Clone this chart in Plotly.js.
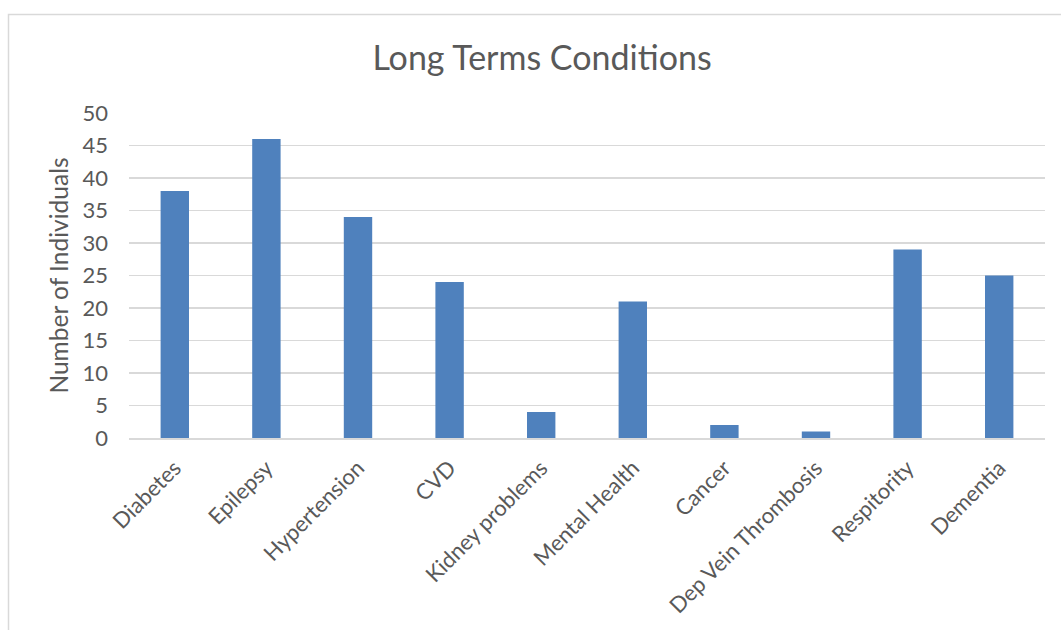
<!DOCTYPE html>
<html>
<head>
<meta charset="utf-8">
<script src="https://cdn.plot.ly/plotly-3.0.1.min.js"></script>
<style>
  html, body { margin: 0; padding: 0; background: #ffffff; }
  #chart { width: 1061px; height: 630px; }
</style>
</head>
<body>
<div id="chart"></div>
<script>
// Long-term conditions recorded, number of individuals per condition
const conditions = [
  "Diabetes", "Epilepsy", "Hypertension", "CVD", "Kidney problems",
  "Mental Health", "Cancer", "Dep Vein Thrombosis", "Respitority", "Dementia"
];
const individuals = [38, 46, 34, 24, 4, 21, 2, 1, 29, 25];
const yTicks = [0, 5, 10, 15, 20, 25, 30, 35, 40, 45, 50];

const textColor = "#595959";
const gridColor = "#d9d9d9";
const fontFamily = "Lato, 'Open Sans', sans-serif";

const W = 1061, H = 630;
const M = { l: 129, r: 16, t: 113, b: 192 };
const plotW = W - M.l - M.r, plotH = H - M.t - M.b;

// outer chart frame, expressed in paper units relative to the plot area
const frame = {
  x0: (8.5 - M.l) / plotW,
  x1: (W + 20 - M.l) / plotW,
  y0: (M.b - H - 20) / plotH,
  y1: (H - M.b - 14.5) / plotH
};

const trace = {
  type: "bar",
  x: conditions,
  y: individuals,
  marker: { color: "#4f81bd", line: { width: 0 } },
  hoverinfo: "x+y"
};

const layout = {
  width: W,
  height: H,
  margin: M,
  paper_bgcolor: "#ffffff",
  plot_bgcolor: "#ffffff",
  bargap: 0.69,
  showlegend: false,
  font: { family: fontFamily, color: textColor, size: 22 },
  title: {
    text: "Long Terms Conditions",
    font: { family: fontFamily, size: 34, color: textColor },
    xref: "container",
    x: 542 / W,
    xanchor: "center",
    yref: "container",
    y: 1 - 58 / H,
    yanchor: "middle"
  },
  xaxis: {
    type: "category",
    tickangle: -45,
    showgrid: false,
    showline: true,
    linecolor: gridColor,
    linewidth: 1.5,
    ticks: "",
    ticklabelstandoff: 7,
    tickfont: { family: fontFamily, size: 22, color: textColor },
    fixedrange: true
  },
  yaxis: {
    range: [0, 50],
    tickvals: yTicks,
    showgrid: true,
    gridcolor: gridColor,
    gridwidth: 1.5,
    zeroline: false,
    showline: false,
    ticks: "",
    ticklabelstandoff: 20,
    tickfont: { family: fontFamily, size: 22, color: textColor },
    title: {
      text: "Number of Individuals",
      font: { family: fontFamily, size: 24.5, color: textColor },
      standoff: 6
    },
    fixedrange: true
  },
  shapes: [{
    type: "rect",
    xref: "paper", yref: "paper",
    x0: frame.x0, x1: frame.x1, y0: frame.y0, y1: frame.y1,
    line: { color: gridColor, width: 1.5 },
    fillcolor: "rgba(0,0,0,0)",
    layer: "below"
  }]
};

Plotly.newPlot("chart", [trace], layout, { displayModeBar: false, staticPlot: true });
</script>
</body>
</html>
